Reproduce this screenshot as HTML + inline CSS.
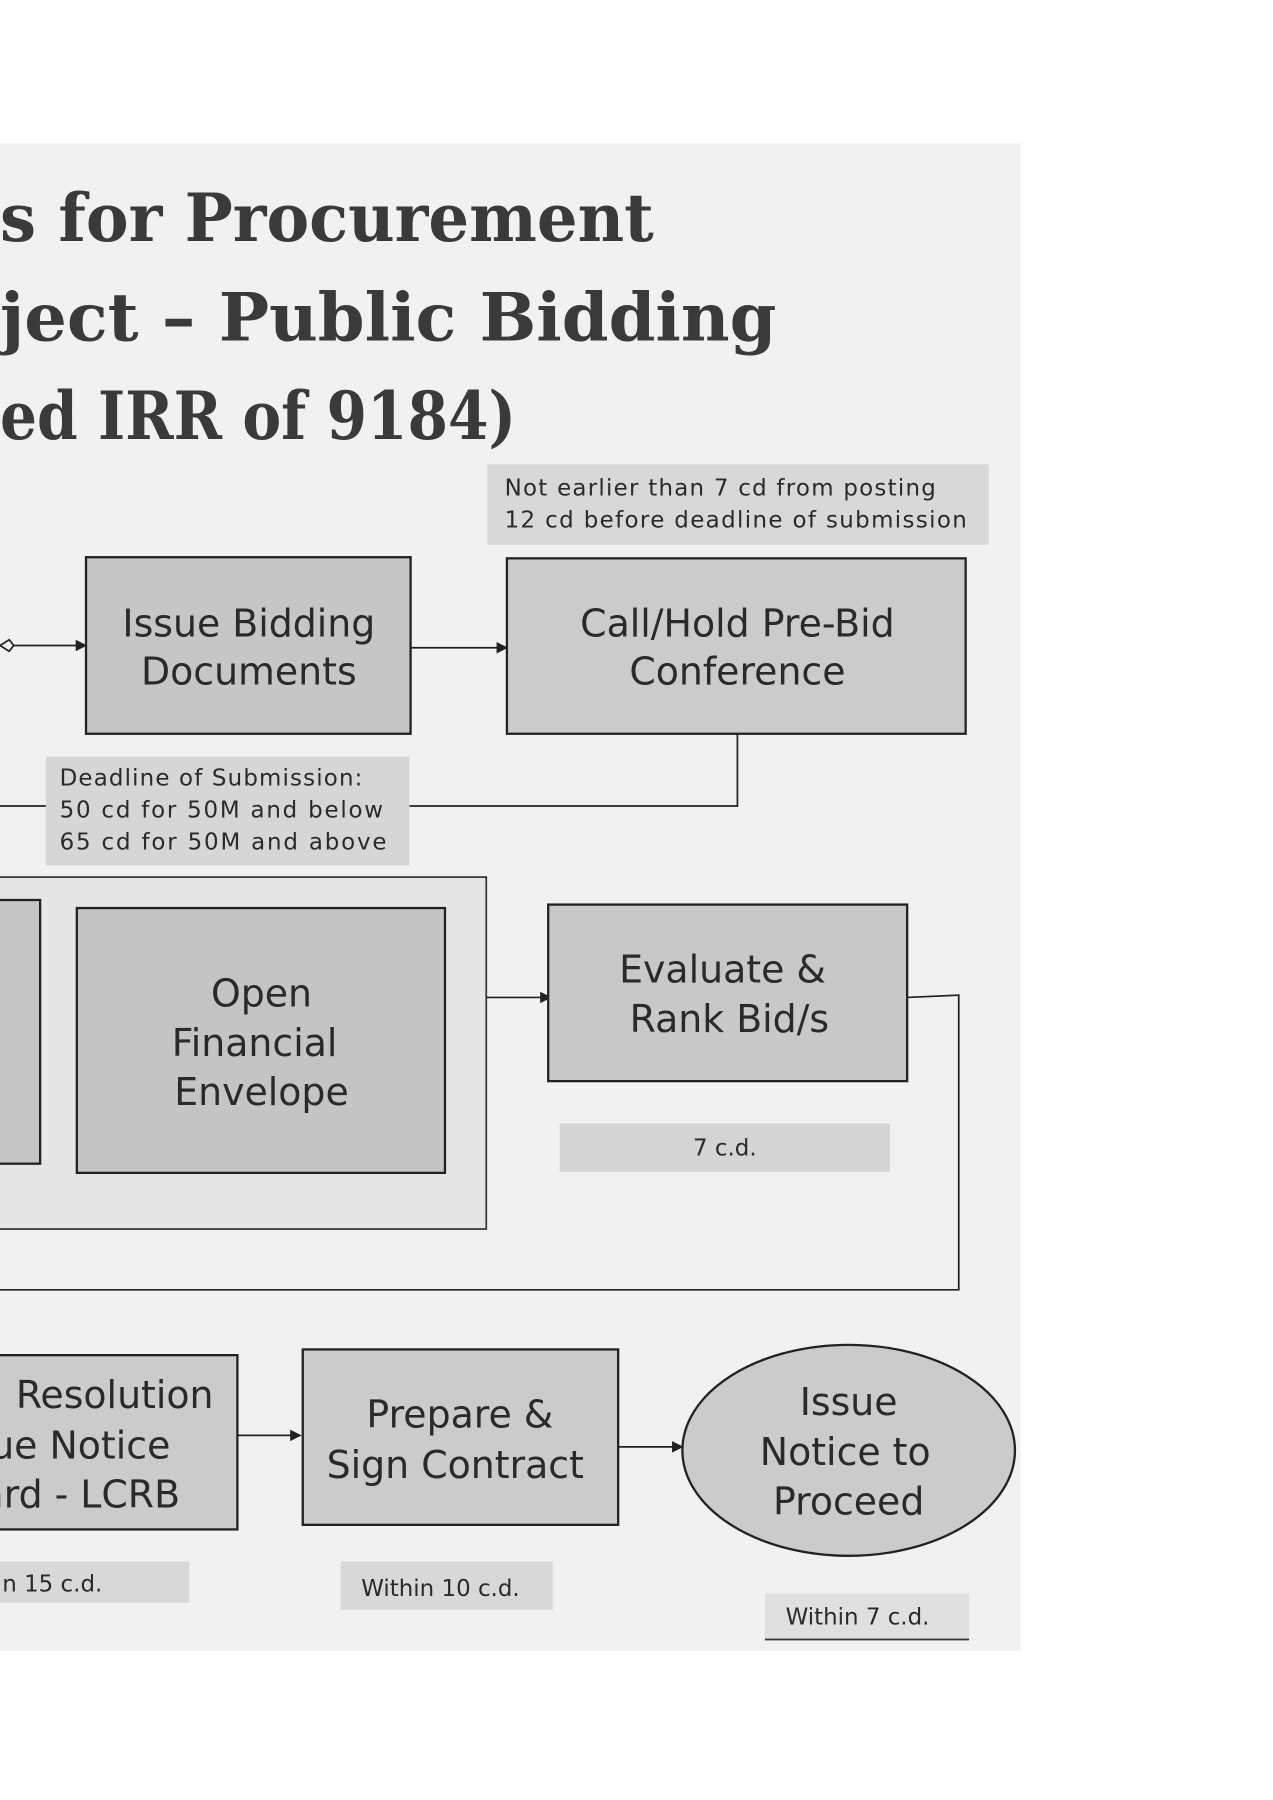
<!DOCTYPE html>
<html><head><meta charset="utf-8"><style>
html,body{margin:0;padding:0;background:#fff;}
svg{display:block;}
text{font-family:"DejaVu Sans","Liberation Sans",sans-serif;fill:#2a2a2a;}
.t{font-family:"DejaVu Serif","Liberation Serif",serif;font-weight:bold;fill:#3a3a3a;font-size:58px;}
.b{font-size:33px;text-anchor:middle;}
.n{font-size:20px;}
</style></head><body>
<svg width="1273" height="1800" viewBox="0 0 1110 1570" preserveAspectRatio="none">
<defs><marker id="a" markerWidth="10" markerHeight="10" refX="9" refY="5" orient="auto" markerUnits="userSpaceOnUse"><path d="M0,0 L10,5 L0,10 z" fill="#222"/></marker></defs>
<rect x="0" y="125" width="890" height="1315" fill="#f1f1f1"/>
<text class="t" x="0" y="210" textLength="570" lengthAdjust="spacingAndGlyphs">s for Procurement</text>
<text class="t" x="0" y="297" textLength="677" lengthAdjust="spacingAndGlyphs">ject – Public Bidding</text>
<text class="t" x="0" y="383" textLength="450" lengthAdjust="spacingAndGlyphs">ed IRR of 9184)</text>

<rect x="425" y="405" width="437" height="70" fill="#d8d8d8"/>
<text class="n" x="440" y="432" textLength="376">Not earlier than 7 cd from posting</text>
<text class="n" x="440" y="460" textLength="403">12 cd before deadline of submission</text>

<rect x="75" y="486" width="283" height="154" fill="#c6c6c6" stroke="#222" stroke-width="2"/>
<text class="b" x="217" y="555">Issue Bidding</text>
<text class="b" x="217" y="597">Documents</text>
<rect x="442" y="487" width="400" height="153" fill="#cbcbcb" stroke="#222" stroke-width="2"/>
<text class="b" x="643" y="555">Call/Hold Pre-Bid</text>
<text class="b" x="643" y="597">Conference</text>
<path d="M0,563 L8,558 L12,563 L8,568 Z" fill="none" stroke="#222" stroke-width="1.5"/>
<line x1="12" y1="563" x2="75" y2="563" stroke="#222" stroke-width="1.5" marker-end="url(#a)"/>
<line x1="358" y1="565" x2="442" y2="565" stroke="#222" stroke-width="1.5" marker-end="url(#a)"/>
<polyline points="643,640 643,703 357,703" fill="none" stroke="#222" stroke-width="1.5"/>
<line x1="0" y1="703" x2="40" y2="703" stroke="#222" stroke-width="1.5"/>
<rect x="40" y="660" width="317" height="95" fill="#d6d6d6"/>
<text class="n" x="52" y="685" textLength="264">Deadline of Submission:</text>
<text class="n" x="52" y="713" textLength="282">50 cd for 50M and below</text>
<text class="n" x="52" y="741" textLength="285">65 cd for 50M and above</text>

<rect x="-5" y="765" width="429" height="307" fill="#e6e6e6" stroke="#333" stroke-width="1.5"/>
<rect x="-5" y="785" width="40" height="230" fill="#c6c6c6" stroke="#222" stroke-width="2"/>
<rect x="67" y="792" width="321" height="231" fill="#c4c4c4" stroke="#222" stroke-width="2"/>
<text class="b" x="228" y="878">Open</text>
<text class="b" x="222" y="921">Financial</text>
<text class="b" x="228" y="964">Envelope</text>
<line x1="424" y1="870" x2="480" y2="870" stroke="#222" stroke-width="1.5" marker-end="url(#a)"/>
<rect x="478" y="789" width="313" height="154" fill="#c8c8c8" stroke="#222" stroke-width="2"/>
<text class="b" x="630" y="857">Evaluate &amp;</text>
<text class="b" x="636" y="900">Rank Bid/s</text>
<polyline points="791,870 836,868 836,1125 0,1125" fill="none" stroke="#222" stroke-width="1.5"/>
<rect x="488" y="980" width="288" height="42" fill="#d4d4d4"/>
<text class="n" x="632" y="1008" text-anchor="middle">7 c.d.</text>

<rect x="-5" y="1182" width="212" height="152" fill="#cbcbcb" stroke="#222" stroke-width="2"/>
<text class="b" x="100" y="1228">Resolution</text>
<text class="b" x="70" y="1272">ue Notice</text>
<text class="b" x="70" y="1315">ard - LCRB</text>
<line x1="207" y1="1252" x2="262" y2="1252" stroke="#222" stroke-width="1.5" marker-end="url(#a)"/>
<rect x="264" y="1177" width="275" height="153" fill="#cbcbcb" stroke="#222" stroke-width="2"/>
<text class="b" x="401" y="1245">Prepare &amp;</text>
<text class="b" x="397" y="1289">Sign Contract</text>
<line x1="539" y1="1262" x2="595" y2="1262" stroke="#222" stroke-width="1.5" marker-end="url(#a)"/>
<ellipse cx="740" cy="1265" rx="145" ry="92" fill="#cbcbcb" stroke="#222" stroke-width="2"/>
<text class="b" x="740" y="1234">Issue</text>
<text class="b" x="737" y="1278">Notice to</text>
<text class="b" x="740" y="1321">Proceed</text>

<rect x="0" y="1362" width="165" height="36" fill="#d8d8d8"/>
<text class="n" x="2" y="1388">n 15 c.d.</text>
<rect x="297" y="1362" width="185" height="42" fill="#d8d8d8"/>
<text class="n" x="315" y="1392">Within 10 c.d.</text>
<rect x="667" y="1390" width="178" height="40" fill="#e0e0e0"/>
<text class="n" x="685" y="1417">Within 7  c.d.</text>
<line x1="667" y1="1430" x2="845" y2="1430" stroke="#333" stroke-width="1.5"/>
</svg>
</body></html>
